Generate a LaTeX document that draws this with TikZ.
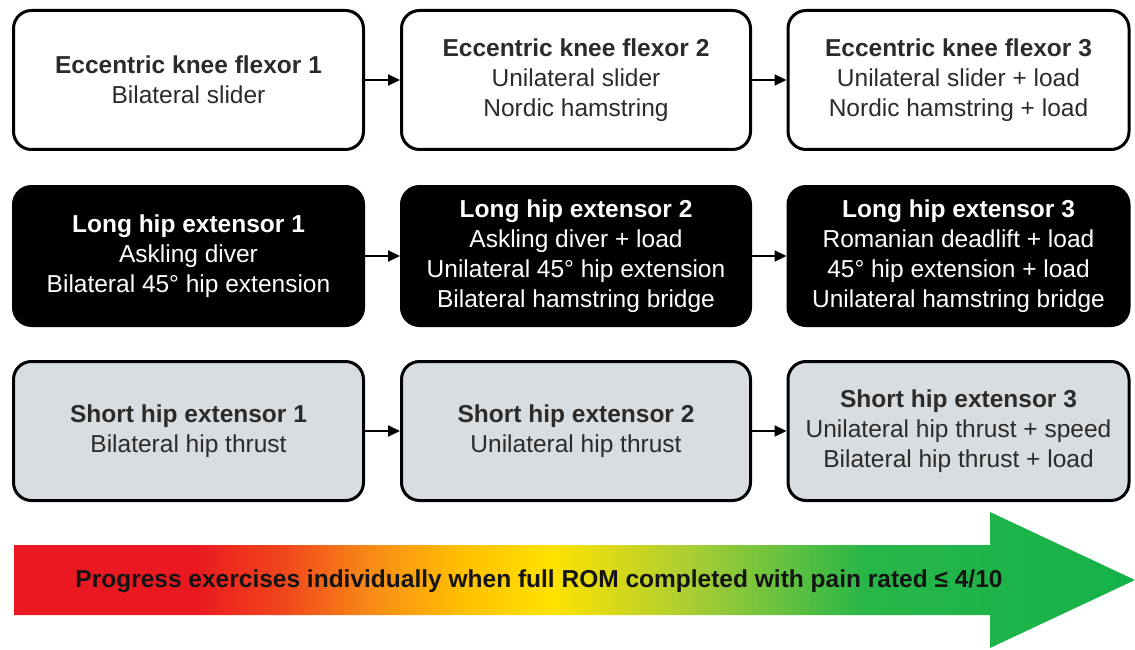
\documentclass[tikz,border=0pt]{standalone}
\usepackage{fontspec}
\setmainfont{Liberation Sans}
\usetikzlibrary{arrows.meta}
\definecolor{txtdark}{HTML}{2B2B2B}
\definecolor{boxgray}{HTML}{D8DDE1}
\definecolor{pred}{RGB}{234,24,32}
\definecolor{predor}{RGB}{240,70,28}
\definecolor{porange}{RGB}{248,140,22}
\definecolor{pamber}{RGB}{255,192,0}
\definecolor{pyellow}{RGB}{255,226,0}
\definecolor{pyg}{RGB}{172,206,52}
\definecolor{pgreen}{RGB}{40,182,72}
\definecolor{pgreenend}{RGB}{20,178,74}
\pgfdeclarehorizontalshading{progress}{100bp}{color(0bp)=(pred); color(25bp)=(pred); color(33bp)=(pred); color(37bp)=(predor); color(41bp)=(porange); color(45bp)=(pamber); color(49bp)=(pyellow); color(55bp)=(pyg); color(63bp)=(pgreen); color(75bp)=(pgreenend); color(100bp)=(pgreenend)}
\tikzset{
  stage/.style={draw=black, line width=3pt, rounded corners=18pt, minimum height=139pt, align=center, inner sep=0pt, font=\fontsize{24.5}{30}\selectfont},
  whitebox/.style={stage, fill=white, text=txtdark},
  blackbox/.style={stage, fill=black, text=white},
  graybox/.style={stage, fill=boxgray, text=txtdark},
  colA/.style={minimum width=350pt},
  colB/.style={minimum width=349pt},
  colC/.style={minimum width=341pt},
  link/.style={line width=2.2pt, -{Triangle[length=12pt,width=11pt]}},
  msgtext/.style={font=\bfseries\fontsize{24.5}{30}\selectfont, text=black!92}
}
\begin{document}
\begin{tikzpicture}[x=1pt,y=-1pt]
\useasboundingbox (0,0) rectangle (1135,650);
% row 1
\node[whitebox,colA] (e1) at (188.5,80) {\textbf{Eccentric knee flexor 1}\\Bilateral slider};
\node[whitebox,colB] (e2) at (576,80) {\textbf{Eccentric knee flexor 2}\\Unilateral slider\\Nordic hamstring};
\node[whitebox,colC] (e3) at (958.5,80) {\textbf{Eccentric knee flexor 3}\\Unilateral slider + load\\Nordic hamstring + load};
% row 2
\node[blackbox,colA] (l1) at (188.5,256) {\textbf{Long hip extensor 1}\\Askling diver\\Bilateral 45° hip extension};
\node[blackbox,colB] (l2) at (576,256) {\textbf{Long hip extensor 2}\\Askling diver + load\\Unilateral 45° hip extension\\Bilateral hamstring bridge};
\node[blackbox,colC] (l3) at (958.5,256) {\textbf{Long hip extensor 3}\\Romanian deadlift + load\\45° hip extension + load\\Unilateral hamstring bridge};
% row 3
\node[graybox,colA] (s1) at (188.5,431) {\textbf{Short hip extensor 1}\\Bilateral hip thrust};
\node[graybox,colB] (s2) at (576,431) {\textbf{Short hip extensor 2}\\Unilateral hip thrust};
\node[graybox,colC] (s3) at (958.5,431) {\textbf{Short hip extensor 3}\\Unilateral hip thrust + speed\\Bilateral hip thrust + load};
% connectors
\draw[link] (e1.east) -- (e2.west);
\draw[link] (e2.east) -- (e3.west);
\draw[link] (l1.east) -- (l2.west);
\draw[link] (l2.east) -- (l3.west);
\draw[link] (s1.east) -- (s2.west);
\draw[link] (s2.east) -- (s3.west);
% progress arrow
\path[shading=progress] (14,545) -- (990,545) -- (990,512) -- (1135,580) -- (990,648) -- (990,615) -- (14,615) -- cycle;
\node[msgtext] (msg) at (539,581) {Progress exercises individually when full ROM completed with pain rated ≤ 4/10};
\end{tikzpicture}
\end{document}
